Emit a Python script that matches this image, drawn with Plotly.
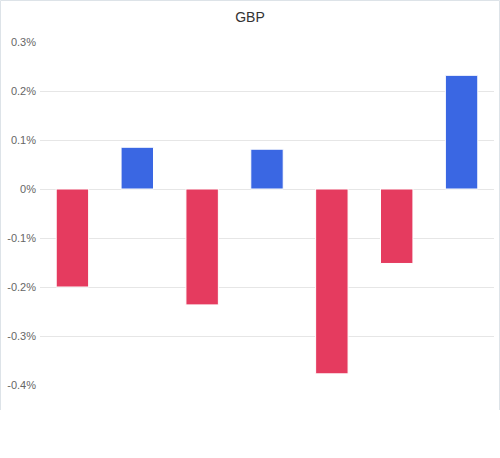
import plotly.graph_objects as go

categories = ["1", "2", "3", "4", "5", "6", "7"]
values = [-0.2, 0.0852, -0.2365, 0.0812, -0.3772, -0.152, 0.232]
tick_vals = [0.3, 0.2, 0.1, 0, -0.1, -0.2, -0.3, -0.4]
tick_text = ["0.3%", "0.2%", "0.1%", "0%", "-0.1%", "-0.2%", "-0.3%", "-0.4%"]
title = "GBP"

RED = "#E53B5F"
BLUE = "#3A67E3"
colors = [BLUE if v >= 0 else RED for v in values]

fig = go.Figure(go.Bar(
    x=categories, y=values,
    marker=dict(color=colors, line=dict(color="white", width=1)),
    hoverinfo="skip",
))

L, R, T, B = 40, 6, 42, 73
W, H = 500, 458
pw, ph = W - L - R, H - T - B

def px2x(px):
    return (px - L) / pw

def py2y(py):
    return (H - B - py) / ph

fig.update_layout(
    width=W, height=H,
    margin=dict(l=L, r=R, t=T, b=B),
    paper_bgcolor="white", plot_bgcolor="white",
    font=dict(family="Liberation Sans, Arial, sans-serif"),
    title=dict(text=title, x=0.5, xanchor="center", y=1 - 17 / H, yanchor="middle",
               font=dict(size=14, color="#333333")),
    bargap=0.5,
    showlegend=False,
    xaxis=dict(showticklabels=False, showgrid=False, zeroline=False, showline=False, ticks=""),
    yaxis=dict(range=[-0.4, 0.3], tickvals=tick_vals, ticktext=tick_text,
               showgrid=True, gridcolor="#e6e6e6", gridwidth=1,
               zeroline=False, showline=False, ticks="",
               tickfont=dict(size=11, color="#666666"), ticklabelstandoff=3),
    shapes=[dict(type="path", xref="paper", yref="paper",
                 path=f"M {px2x(0.5)} {py2y(410)} L {px2x(0.5)} {py2y(0.5)} L {px2x(499.5)} {py2y(0.5)} L {px2x(499.5)} {py2y(410)}",
                 line=dict(color="#dde3e8", width=1), layer="below")],
)

fig.write_html("out.html", config={"displayModeBar": False},
               post_script="document.body.style.margin='0';")
